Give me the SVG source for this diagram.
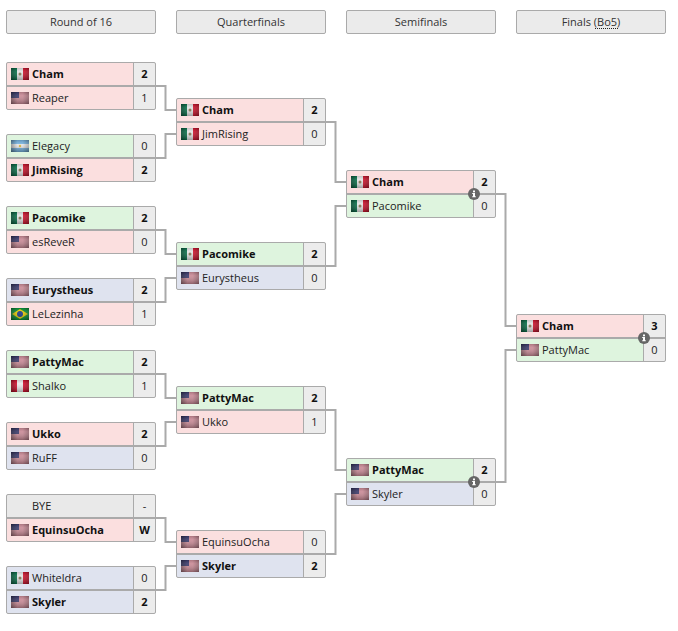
<svg xmlns="http://www.w3.org/2000/svg" xmlns:xlink="http://www.w3.org/1999/xlink" width="678" height="631" viewBox="0 0 678 631">
<style>
text{font-family:"Open Sans","Liberation Sans",sans-serif;font-size:11px;fill:#222}
.b{font-weight:700;fill:#111}
.s{text-anchor:middle}
.hd{fill:#ebebeb;stroke:#aaa;stroke-width:1}
.h{text-anchor:middle;fill:#333}
.p{fill:#fbdfdf}.g{fill:#def4de}.u{fill:#dfe3ef}.n{fill:#e9e9e9}.sc{fill:#ececec}
.fr{fill:none;stroke:#aaa;stroke-width:1}
.d{stroke:#aaa;stroke-width:1;fill:none}
.m{stroke:#aaa;stroke-width:2;fill:none}
#connectors path{fill:none;stroke:#aaa;stroke-width:2}
</style>
<defs>
<linearGradient id="sh" x1="0" y1="0" x2="1" y2="0"><stop offset="0" stop-color="#000" stop-opacity=".4"/><stop offset=".35" stop-color="#000" stop-opacity=".05"/><stop offset=".65" stop-color="#000" stop-opacity=".05"/><stop offset="1" stop-color="#000" stop-opacity=".3"/></linearGradient>
<linearGradient id="sv" x1="0" y1="0" x2="0" y2="1"><stop offset="0" stop-color="#000" stop-opacity=".15"/><stop offset=".3" stop-color="#fff" stop-opacity=".1"/><stop offset="1" stop-color="#000" stop-opacity=".3"/></linearGradient>
<g id="gl"><rect width="18" height="12" fill="url(#sh)"/><rect width="18" height="12" fill="url(#sv)"/></g>
<g id="mx"><rect width="6" height="12" fill="#0a7a50"/><rect x="6" width="6" height="12" fill="#eee"/><rect x="12" width="6" height="12" fill="#dc1530"/><circle cx="9" cy="6" r="1.500" fill="#8a7a50"/><use xlink:href="#gl" href="#gl"/></g>
<g id="us"><rect width="18" height="12" fill="#f0f0f0"/><path d="M0 1h18M0 3h18M0 5h18M0 7h18M0 9h18M0 11h18" stroke="#b5304a" stroke-width="1"/><rect width="8" height="6" fill="#3c3b6e"/><use xlink:href="#gl" href="#gl"/></g>
<g id="ar"><rect width="18" height="12" fill="#7ab8e6"/><rect y="4" width="18" height="4" fill="#f2f2f2"/><circle cx="9" cy="6" r="1.200" fill="#e8c040"/><use xlink:href="#gl" href="#gl"/></g>
<g id="br"><rect width="18" height="12" fill="#0a9a3a"/><path d="M9 1L17 6L9 11L1 6Z" fill="#f5d800"/><circle cx="9" cy="6" r="3" fill="#1c3a8a"/><use xlink:href="#gl" href="#gl"/></g>
<g id="pe"><rect width="6" height="12" fill="#e01030"/><rect x="6" width="6" height="12" fill="#f4f4f4"/><rect x="12" width="6" height="12" fill="#e01030"/><use xlink:href="#gl" href="#gl"/></g>
<g id="info"><circle r="6" fill="#666"/><rect x="-1" y="-3.500" width="2" height="1.800" fill="#fff"/><path d="M-1.800 -1H1V2.200H1.800V3.300H-1.800V2.200H-1V0.100H-1.800Z" fill="#fff"/></g>
</defs>
<rect width="678" height="631" fill="#fff"/>

<g id="headers">
<g id="h1"><rect class="hd" x="6.500" y="10.500" width="149" height="23" rx="1.500"/><text class="h" x="81" y="26">Round of 16</text></g>
<g id="h2"><rect class="hd" x="176.500" y="10.500" width="149" height="23" rx="1.500"/><text class="h" x="251" y="26">Quarterfinals</text></g>
<g id="h3"><rect class="hd" x="346.500" y="10.500" width="149" height="23" rx="1.500"/><text class="h" x="421" y="26">Semifinals</text></g>
<g id="h4"><rect class="hd" x="516.500" y="10.500" width="149" height="23" rx="1.500"/><text class="h" x="591" y="26">Finals (Bo5)</text><path d="M595 28.500H619" stroke="#222" stroke-width="1" stroke-dasharray="1 1" fill="none"/></g>
</g>

<g id="connectors">
<path d="M155 86H165.500V110H176"/>
<path d="M155 158H165.500V134H176"/>
<path d="M155 230H165.500V254H176"/>
<path d="M155 302H165.500V278H176"/>
<path d="M155 374H165.500V398H176"/>
<path d="M155 446H165.500V422H176"/>
<path d="M155 518H165.500V542H176"/>
<path d="M155 590H165.500V566H176"/>
<path d="M325 122H335.500V182H346"/>
<path d="M325 266H335.500V206H346"/>
<path d="M325 410H335.500V470H346"/>
<path d="M325 554H335.500V494H346"/>
<path d="M495 194H505.500V326H516"/>
<path d="M495 482H505.500V350H516"/>
</g>

<g id="m1" transform="translate(6,62)"><rect class="p" x=".5" y=".5" width="127" height="23"/><rect class="p" x=".5" y="24" width="127" height="23"/><rect class="sc" x="127.500" y=".5" width="22" height="47"/><use xlink:href="#mx" href="#mx" x="5" y="6"/><text class="b" x="26" y="16">Cham</text><text class="s b" x="138.500" y="16">2</text><use xlink:href="#us" href="#us" x="5" y="30"/><text x="26" y="40">Reaper</text><text class="s" x="138.500" y="40">1</text><path class="m" d="M.5 24H149.500"/><path class="d" d="M127.500 .5V47.500"/><rect class="fr" x=".5" y=".5" width="149" height="47" rx="1.500"/></g>

<g id="m2" transform="translate(6,134)"><rect class="g" x=".5" y=".5" width="127" height="23"/><rect class="p" x=".5" y="24" width="127" height="23"/><rect class="sc" x="127.500" y=".5" width="22" height="47"/><use xlink:href="#ar" href="#ar" x="5" y="6"/><text x="26" y="16">Elegacy</text><text class="s" x="138.500" y="16">0</text><use xlink:href="#mx" href="#mx" x="5" y="30"/><text class="b" x="26" y="40">JimRising</text><text class="s b" x="138.500" y="40">2</text><path class="m" d="M.5 24H149.500"/><path class="d" d="M127.500 .5V47.500"/><rect class="fr" x=".5" y=".5" width="149" height="47" rx="1.500"/></g>

<g id="m3" transform="translate(6,206)"><rect class="g" x=".5" y=".5" width="127" height="23"/><rect class="p" x=".5" y="24" width="127" height="23"/><rect class="sc" x="127.500" y=".5" width="22" height="47"/><use xlink:href="#mx" href="#mx" x="5" y="6"/><text class="b" x="26" y="16">Pacomike</text><text class="s b" x="138.500" y="16">2</text><use xlink:href="#us" href="#us" x="5" y="30"/><text x="26" y="40">esReveR</text><text class="s" x="138.500" y="40">0</text><path class="m" d="M.5 24H149.500"/><path class="d" d="M127.500 .5V47.500"/><rect class="fr" x=".5" y=".5" width="149" height="47" rx="1.500"/></g>

<g id="m4" transform="translate(6,278)"><rect class="u" x=".5" y=".5" width="127" height="23"/><rect class="p" x=".5" y="24" width="127" height="23"/><rect class="sc" x="127.500" y=".5" width="22" height="47"/><use xlink:href="#us" href="#us" x="5" y="6"/><text class="b" x="26" y="16">Eurystheus</text><text class="s b" x="138.500" y="16">2</text><use xlink:href="#br" href="#br" x="5" y="30"/><text x="26" y="40">LeLezinha</text><text class="s" x="138.500" y="40">1</text><path class="m" d="M.5 24H149.500"/><path class="d" d="M127.500 .5V47.500"/><rect class="fr" x=".5" y=".5" width="149" height="47" rx="1.500"/></g>

<g id="m5" transform="translate(6,350)"><rect class="g" x=".5" y=".5" width="127" height="23"/><rect class="g" x=".5" y="24" width="127" height="23"/><rect class="sc" x="127.500" y=".5" width="22" height="47"/><use xlink:href="#us" href="#us" x="5" y="6"/><text class="b" x="26" y="16">PattyMac</text><text class="s b" x="138.500" y="16">2</text><use xlink:href="#pe" href="#pe" x="5" y="30"/><text x="26" y="40">Shalko</text><text class="s" x="138.500" y="40">1</text><path class="m" d="M.5 24H149.500"/><path class="d" d="M127.500 .5V47.500"/><rect class="fr" x=".5" y=".5" width="149" height="47" rx="1.500"/></g>

<g id="m6" transform="translate(6,422)"><rect class="p" x=".5" y=".5" width="127" height="23"/><rect class="u" x=".5" y="24" width="127" height="23"/><rect class="sc" x="127.500" y=".5" width="22" height="47"/><use xlink:href="#us" href="#us" x="5" y="6"/><text class="b" x="26" y="16">Ukko</text><text class="s b" x="138.500" y="16">2</text><use xlink:href="#us" href="#us" x="5" y="30"/><text x="26" y="40">RuFF</text><text class="s" x="138.500" y="40">0</text><path class="m" d="M.5 24H149.500"/><path class="d" d="M127.500 .5V47.500"/><rect class="fr" x=".5" y=".5" width="149" height="47" rx="1.500"/></g>

<g id="m7" transform="translate(6,494)"><rect class="n" x=".5" y=".5" width="127" height="23"/><rect class="p" x=".5" y="24" width="127" height="23"/><rect class="sc" x="127.500" y=".5" width="22" height="47"/><text x="26" y="16">BYE</text><text class="s" x="138.500" y="16">-</text><use xlink:href="#us" href="#us" x="5" y="30"/><text class="b" x="26" y="40">EquinsuOcha</text><text class="s b" x="138.500" y="40">W</text><path class="m" d="M.5 24H149.500"/><path class="d" d="M127.500 .5V47.500"/><rect class="fr" x=".5" y=".5" width="149" height="47" rx="1.500"/></g>

<g id="m8" transform="translate(6,566)"><rect class="u" x=".5" y=".5" width="127" height="23"/><rect class="u" x=".5" y="24" width="127" height="23"/><rect class="sc" x="127.500" y=".5" width="22" height="47"/><use xlink:href="#mx" href="#mx" x="5" y="6"/><text x="26" y="16">Whiteldra</text><text class="s" x="138.500" y="16">0</text><use xlink:href="#us" href="#us" x="5" y="30"/><text class="b" x="26" y="40">Skyler</text><text class="s b" x="138.500" y="40">2</text><path class="m" d="M.5 24H149.500"/><path class="d" d="M127.500 .5V47.500"/><rect class="fr" x=".5" y=".5" width="149" height="47" rx="1.500"/></g>

<g id="m9" transform="translate(176,98)"><rect class="p" x=".5" y=".5" width="127" height="23"/><rect class="p" x=".5" y="24" width="127" height="23"/><rect class="sc" x="127.500" y=".5" width="22" height="47"/><use xlink:href="#mx" href="#mx" x="5" y="6"/><text class="b" x="26" y="16">Cham</text><text class="s b" x="138.500" y="16">2</text><use xlink:href="#mx" href="#mx" x="5" y="30"/><text x="26" y="40">JimRising</text><text class="s" x="138.500" y="40">0</text><path class="m" d="M.5 24H149.500"/><path class="d" d="M127.500 .5V47.500"/><rect class="fr" x=".5" y=".5" width="149" height="47" rx="1.500"/></g>

<g id="m10" transform="translate(176,242)"><rect class="g" x=".5" y=".5" width="127" height="23"/><rect class="u" x=".5" y="24" width="127" height="23"/><rect class="sc" x="127.500" y=".5" width="22" height="47"/><use xlink:href="#mx" href="#mx" x="5" y="6"/><text class="b" x="26" y="16">Pacomike</text><text class="s b" x="138.500" y="16">2</text><use xlink:href="#us" href="#us" x="5" y="30"/><text x="26" y="40">Eurystheus</text><text class="s" x="138.500" y="40">0</text><path class="m" d="M.5 24H149.500"/><path class="d" d="M127.500 .5V47.500"/><rect class="fr" x=".5" y=".5" width="149" height="47" rx="1.500"/></g>

<g id="m11" transform="translate(176,386)"><rect class="g" x=".5" y=".5" width="127" height="23"/><rect class="p" x=".5" y="24" width="127" height="23"/><rect class="sc" x="127.500" y=".5" width="22" height="47"/><use xlink:href="#us" href="#us" x="5" y="6"/><text class="b" x="26" y="16">PattyMac</text><text class="s b" x="138.500" y="16">2</text><use xlink:href="#us" href="#us" x="5" y="30"/><text x="26" y="40">Ukko</text><text class="s" x="138.500" y="40">1</text><path class="m" d="M.5 24H149.500"/><path class="d" d="M127.500 .5V47.500"/><rect class="fr" x=".5" y=".5" width="149" height="47" rx="1.500"/></g>

<g id="m12" transform="translate(176,530)"><rect class="p" x=".5" y=".5" width="127" height="23"/><rect class="u" x=".5" y="24" width="127" height="23"/><rect class="sc" x="127.500" y=".5" width="22" height="47"/><use xlink:href="#us" href="#us" x="5" y="6"/><text x="26" y="16">EquinsuOcha</text><text class="s" x="138.500" y="16">0</text><use xlink:href="#us" href="#us" x="5" y="30"/><text class="b" x="26" y="40">Skyler</text><text class="s b" x="138.500" y="40">2</text><path class="m" d="M.5 24H149.500"/><path class="d" d="M127.500 .5V47.500"/><rect class="fr" x=".5" y=".5" width="149" height="47" rx="1.500"/></g>

<g id="m13" transform="translate(346,170)"><rect class="p" x=".5" y=".5" width="127" height="23"/><rect class="g" x=".5" y="24" width="127" height="23"/><rect class="sc" x="127.500" y=".5" width="22" height="47"/><use xlink:href="#mx" href="#mx" x="5" y="6"/><text class="b" x="26" y="16">Cham</text><text class="s b" x="138.500" y="16">2</text><use xlink:href="#mx" href="#mx" x="5" y="30"/><text x="26" y="40">Pacomike</text><text class="s" x="138.500" y="40">0</text><path class="m" d="M.5 24H149.500"/><path class="d" d="M127.500 .5V47.500"/><rect class="fr" x=".5" y=".5" width="149" height="47" rx="1.500"/><use xlink:href="#info" href="#info" x="128" y="24"/></g>

<g id="m14" transform="translate(346,458)"><rect class="g" x=".5" y=".5" width="127" height="23"/><rect class="u" x=".5" y="24" width="127" height="23"/><rect class="sc" x="127.500" y=".5" width="22" height="47"/><use xlink:href="#us" href="#us" x="5" y="6"/><text class="b" x="26" y="16">PattyMac</text><text class="s b" x="138.500" y="16">2</text><use xlink:href="#us" href="#us" x="5" y="30"/><text x="26" y="40">Skyler</text><text class="s" x="138.500" y="40">0</text><path class="m" d="M.5 24H149.500"/><path class="d" d="M127.500 .5V47.500"/><rect class="fr" x=".5" y=".5" width="149" height="47" rx="1.500"/><use xlink:href="#info" href="#info" x="128" y="24"/></g>

<g id="m15" transform="translate(516,314)"><rect class="p" x=".5" y=".5" width="127" height="23"/><rect class="g" x=".5" y="24" width="127" height="23"/><rect class="sc" x="127.500" y=".5" width="22" height="47"/><use xlink:href="#mx" href="#mx" x="5" y="6"/><text class="b" x="26" y="16">Cham</text><text class="s b" x="138.500" y="16">3</text><use xlink:href="#us" href="#us" x="5" y="30"/><text x="26" y="40">PattyMac</text><text class="s" x="138.500" y="40">0</text><path class="m" d="M.5 24H149.500"/><path class="d" d="M127.500 .5V47.500"/><rect class="fr" x=".5" y=".5" width="149" height="47" rx="1.500"/><use xlink:href="#info" href="#info" x="128" y="24"/></g>
</svg>
